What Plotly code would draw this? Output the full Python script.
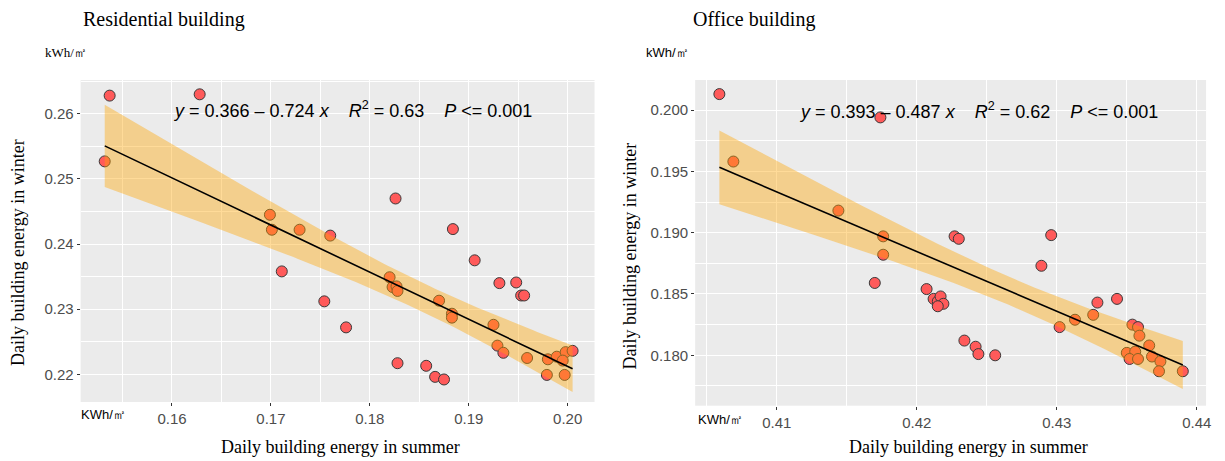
import numpy as np
import plotly.graph_objects as go

# ---------------- data ----------------
res_x = [0.1537, 0.1532, 0.1628, 0.1699, 0.1701, 0.1729, 0.1760, 0.1711, 0.1754, 0.1826,
         0.1884, 0.1906, 0.1820, 0.1823, 0.1827, 0.1828, 0.1776, 0.1870, 0.1883, 0.1883,
         0.1925, 0.1931, 0.1948, 0.1953, 0.1956, 0.1929, 0.1935, 0.1959, 0.1828, 0.1857,
         0.1866, 0.1875, 0.1980, 0.1989, 0.1998, 0.2005, 0.1995, 0.1979, 0.1997]
res_y = [0.2628, 0.2527, 0.2630, 0.2445, 0.2422, 0.2422, 0.2413, 0.2358, 0.2312, 0.2470,
         0.2423, 0.2375, 0.2349, 0.2334, 0.2335, 0.2328, 0.2272, 0.2313, 0.2293, 0.2287,
         0.2276, 0.2340, 0.2341, 0.2321, 0.2321, 0.2244, 0.2233, 0.2225, 0.2217, 0.2213,
         0.2196, 0.2192, 0.2223, 0.2227, 0.2234, 0.2236, 0.2221, 0.2199, 0.2199]
res_coef = [0.366, -0.724]

off_x = [0.4059, 0.4069, 0.4174, 0.4144, 0.4176, 0.4176, 0.4170, 0.4207, 0.4212, 0.4215,
         0.4217, 0.4219, 0.4215, 0.4227, 0.4230, 0.4296, 0.4289, 0.4234, 0.4242, 0.4244,
         0.4256, 0.4302, 0.4313, 0.4326, 0.4329, 0.4343, 0.4354, 0.4358, 0.4359, 0.4366,
         0.4350, 0.4356, 0.4352, 0.4358, 0.4368, 0.4374, 0.4373, 0.4390]
off_y = [0.2013, 0.1958, 0.1994, 0.1918, 0.1897, 0.1882, 0.1859, 0.1854, 0.1846, 0.1844,
         0.1848, 0.1842, 0.1840, 0.1897, 0.1895, 0.1898, 0.1873, 0.1812, 0.1807, 0.1801,
         0.1800, 0.1823, 0.1829, 0.1833, 0.1843, 0.1846, 0.1825, 0.1823, 0.1816, 0.1808,
         0.1802, 0.1803, 0.1797, 0.1797, 0.1799, 0.1795, 0.1787, 0.1787]
off_coef = [0.393, -0.487]

panel_titles = ["Residential building", "Office building"]
res_eq = "<i>y</i>\u00a0=\u00a00.366\u00a0\u2013\u00a00.724\u00a0<i>x</i>\u00a0\u00a0\u00a0\u00a0<i>R</i><sup>2</sup>\u00a0=\u00a00.63\u00a0\u00a0\u00a0\u00a0<i>P</i>\u00a0&lt;=\u00a00.001"
off_eq = "<i>y</i>\u00a0=\u00a00.393\u00a0\u2013\u00a00.487\u00a0<i>x</i>\u00a0\u00a0\u00a0\u00a0<i>R</i><sup>2</sup>\u00a0=\u00a00.62\u00a0\u00a0\u00a0\u00a0<i>P</i>\u00a0&lt;=\u00a00.001"

W, H = 1225, 461
SERIF = "Liberation Serif, Times New Roman, serif"
SANS = "Liberation Sans, Arial, sans-serif"
PT_COLOR = "#FF5A5A"
EDGE = "#3A3A3A"
BAND = "rgba(255,165,0,0.4)"


def ci_band(x, y, coef, t=2.03):
    x = np.asarray(x); y = np.asarray(y)
    n = len(x)
    xb = x.mean()
    sxx = ((x - xb) ** 2).sum()
    resid = y - (coef[0] + coef[1] * x)
    s = np.sqrt((resid ** 2).sum() / (n - 2))
    xs = np.linspace(x.min(), x.max(), 120)
    fit = coef[0] + coef[1] * xs
    hw = t * s * np.sqrt(1.0 / n + (xs - xb) ** 2 / sxx)
    return xs, fit, fit - hw, fit + hw


fig = go.Figure()

for (xd, yd, coef, xa, ya) in [(res_x, res_y, res_coef, "x", "y"),
                               (off_x, off_y, off_coef, "x2", "y2")]:
    fig.add_trace(go.Scatter(x=xd, y=yd, mode="markers", xaxis=xa, yaxis=ya,
                             marker=dict(size=11, color=PT_COLOR,
                                         line=dict(color=EDGE, width=1)),
                             hoverinfo="skip"))
    xs, fit, lo, hi = ci_band(xd, yd, coef)
    fig.add_trace(go.Scatter(x=np.concatenate([xs, xs[::-1]]),
                             y=np.concatenate([hi, lo[::-1]]),
                             mode="lines", fill="toself", fillcolor=BAND,
                             line=dict(width=0), xaxis=xa, yaxis=ya,
                             hoverinfo="skip"))
    fig.add_trace(go.Scatter(x=xs, y=fit, mode="lines", xaxis=xa, yaxis=ya,
                             line=dict(color="black", width=1.6),
                             hoverinfo="skip"))


def px(x):
    return x / W


def py(y):
    return 1 - y / H


axis_common = dict(showline=False, zeroline=False, showgrid=True,
                   gridcolor="white", gridwidth=1.2,
                   ticks="outside", ticklen=3, tickwidth=1, tickcolor="#333333",
                   tickfont=dict(family=SANS, size=15, color="#4D4D4D"))

fig.update_layout(
    width=W, height=H, autosize=False,
    margin=dict(l=0, r=0, t=0, b=0),
    paper_bgcolor="white", plot_bgcolor="#EBEBEB",
    showlegend=False,
    xaxis=dict(domain=[px(81), px(597)], range=[0.15077, 0.20272], anchor="y",
               tick0=0.16, dtick=0.01, tickformat=".2f",
               minor=dict(dtick=0.005, tick0=0.155, showgrid=True, gridcolor="white", gridwidth=0.6, ticks=""),
               **axis_common),
    yaxis=dict(domain=[py(402), py(80)], range=[0.21574, 0.2652], anchor="x",
               tick0=0.22, dtick=0.01, tickformat=".2f",
               minor=dict(dtick=0.005, tick0=0.215, showgrid=True, gridcolor="white", gridwidth=0.6, ticks=""),
               **axis_common),
    xaxis2=dict(domain=[px(698), px(1211)], range=[0.40417, 0.44066], anchor="y2",
                tick0=0.41, dtick=0.01, tickformat=".2f",
                minor=dict(dtick=0.005, tick0=0.405, showgrid=True, gridcolor="white", gridwidth=0.6, ticks=""),
                **axis_common),
    yaxis2=dict(domain=[py(405.7), py(80)], range=[0.17589, 0.20245], anchor="x2",
                tick0=0.18, dtick=0.005, tickformat=".3f",
                minor=dict(dtick=0.0025, tick0=0.1775, showgrid=True, gridcolor="white", gridwidth=0.6, ticks=""),
                **axis_common),
)

ann = []
# panel titles
ann.append(dict(text=panel_titles[0], x=px(81), y=py(19), xanchor="left", yanchor="middle",
                font=dict(family=SERIF, size=20, color="black")))
ann.append(dict(text=panel_titles[1], x=px(694), y=py(19), xanchor="left", yanchor="middle",
                font=dict(family=SERIF, size=20, color="black")))
# unit labels
ann.append(dict(text="kWh/\u33a1", x=px(43), y=py(53), xanchor="left", yanchor="middle",
                font=dict(family=SERIF, size=13, color="black")))
ann.append(dict(text="kWh/\u33a1", x=px(647), y=py(53), xanchor="left", yanchor="middle",
                font=dict(family=SANS, size=13, color="black")))
ann.append(dict(text="KWh/\u33a1", x=px(79), y=py(414), xanchor="left", yanchor="middle",
                font=dict(family=SANS, size=13, color="black")))
ann.append(dict(text="KWh/\u33a1", x=px(699), y=py(419), xanchor="left", yanchor="middle",
                font=dict(family=SANS, size=13, color="black")))
# axis titles
ann.append(dict(text="Daily building energy in winter", x=px(18), y=py(252), textangle=-90,
                xanchor="center", yanchor="middle",
                font=dict(family=SERIF, size=18, color="black")))
ann.append(dict(text="Daily building energy in winter", x=px(633), y=py(256), textangle=-90,
                xanchor="center", yanchor="middle",
                font=dict(family=SERIF, size=18, color="black")))
ann.append(dict(text="Daily building energy in summer", x=px(342), y=py(447),
                xanchor="center", yanchor="middle",
                font=dict(family=SERIF, size=18, color="black")))
ann.append(dict(text="Daily building energy in summer", x=px(972), y=py(447),
                xanchor="center", yanchor="middle",
                font=dict(family=SERIF, size=18, color="black")))
# equations
ann.append(dict(text=res_eq, x=px(172), y=py(110), xanchor="left", yanchor="middle",
                font=dict(family=SANS, size=18, color="black")))
ann.append(dict(text=off_eq, x=px(800), y=py(111), xanchor="left", yanchor="middle",
                font=dict(family=SANS, size=18, color="black")))

for a in ann:
    a.update(xref="paper", yref="paper", showarrow=False)
fig.update_layout(annotations=ann)

fig.write_html("out.html")
